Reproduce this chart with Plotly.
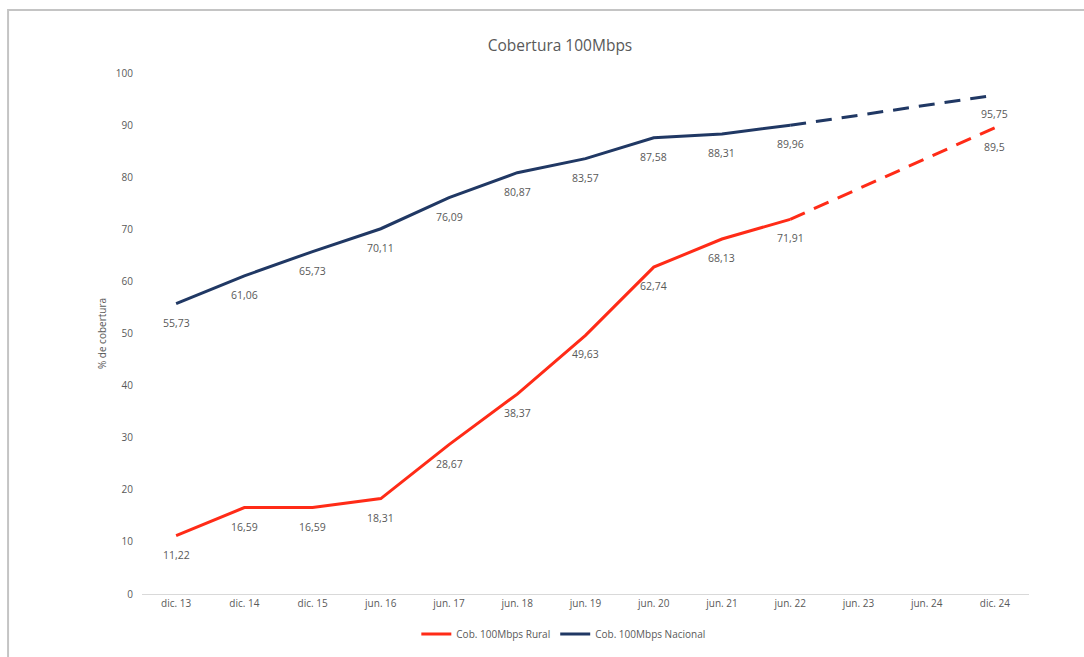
import plotly.graph_objects as go

categories = ["dic. 13", "dic. 14", "dic. 15", "jun. 16", "jun. 17", "jun. 18", "jun. 19",
              "jun. 20", "jun. 21", "jun. 22", "jun. 23", "jun. 24", "dic. 24"]
rural = [11.22, 16.59, 16.59, 18.31, 28.67, 38.37, 49.63, 62.74, 68.13, 71.91, None, None, 89.5]
nacional = [55.73, 61.06, 65.73, 70.11, 76.09, 80.87, 83.57, 87.58, 88.31, 89.96, None, None, 95.75]
y_ticks = [0, 10, 20, 30, 40, 50, 60, 70, 80, 90, 100]

RED = "#FF2B17"
BLUE = "#203864"
GREY = "#595959"
FONT = "Open Sans, Calibri, sans-serif"
LAST_ACTUAL = 9  # index of jun. 22; later points are projections

fig = go.Figure()


def add_series(values, name, color):
    solid_x = categories[:LAST_ACTUAL + 1]
    solid_y = values[:LAST_ACTUAL + 1]
    fig.add_trace(go.Scatter(x=solid_x, y=solid_y, mode="lines", name=name,
                             line=dict(color=color, width=3), hoverinfo="x+y"))
    fig.add_trace(go.Scatter(x=categories[LAST_ACTUAL:], y=values[LAST_ACTUAL:], mode="lines",
                             connectgaps=True, showlegend=False,
                             line=dict(color=color, width=3, dash="16px,10px")))
    for cat, v in zip(categories, values):
        if v is None:
            continue
        fig.add_annotation(x=cat, y=v, text=f"{v:g}".replace(".", ","), showarrow=False,
                           yshift=-19, font=dict(size=10.5, color=GREY, family=FONT))


add_series(rural, "Cob. 100Mbps Rural", RED)
add_series(nacional, "Cob. 100Mbps Nacional", BLUE)

# outer frame of the chart area
fig.add_shape(type="rect", xref="paper", yref="paper", x0=-0.151, x1=1.2, y0=-0.3, y1=1.121,
              line=dict(color="#C4C4C4", width=2), layer="below")

fig.update_layout(
    width=1084, height=657,
    margin=dict(l=142, r=55, t=73, b=63, autoexpand=False),
    paper_bgcolor="white", plot_bgcolor="white",
    title=dict(text="Cobertura 100Mbps", xref="container", x=560 / 1084, xanchor="center",
               yref="container", y=1 - 46 / 657, yanchor="middle",
               font=dict(size=15.5, color=GREY, family=FONT)),
    font=dict(family=FONT, color=GREY, size=10),
    showlegend=True,
    legend=dict(orientation="h", x=0.475, xanchor="center",
                yref="container", y=1 - 634 / 657, yanchor="middle",
                font=dict(size=10, color=GREY), itemwidth=30, tracegroupgap=0),
    xaxis=dict(type="category", categoryorder="array", categoryarray=categories,
               showgrid=False, showline=True, linecolor="#D9D9D9", linewidth=1,
               ticks="", tickfont=dict(size=10, color=GREY), range=[-0.5, 12.5],
               zeroline=False),
    yaxis=dict(range=[0, 100], tickvals=y_ticks, showgrid=False, zeroline=False,
               showline=False, ticks="", ticklen=0, ticklabelstandoff=8,
               tickfont=dict(size=10, color=GREY),
               title=dict(text="% de cobertura", font=dict(size=10, color=GREY), standoff=7)),
)

fig.write_html("out.html")
